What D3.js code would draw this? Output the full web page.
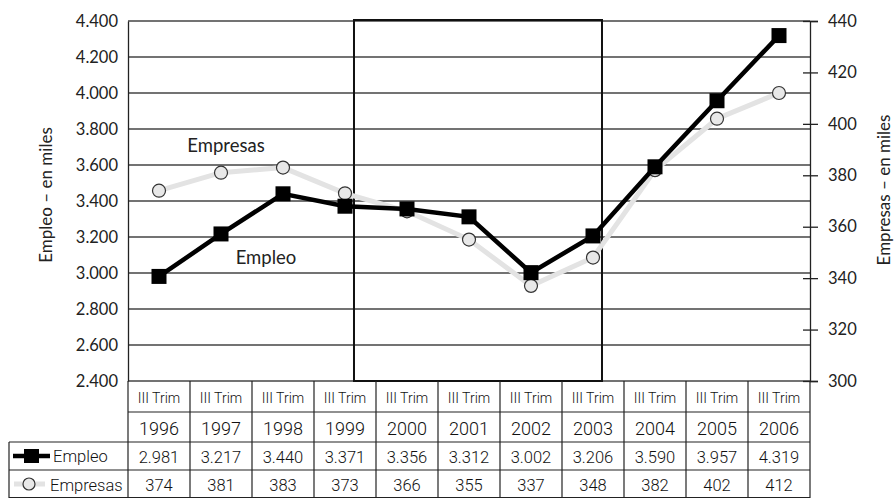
<!DOCTYPE html>
<html><head><meta charset="utf-8">
<script src="https://cdn.jsdelivr.net/npm/d3@7"></script>
<style>body{margin:0;background:#fff}svg{display:block}text{font-family:Lato,"Open Sans",sans-serif;fill:#222}
text.tbl{font-family:Roboto,sans-serif;font-weight:300;fill:#111}</style>
</head><body><svg id="c" width="895" height="498"></svg>
<script>
const years = ["1996","1997","1998","1999","2000","2001","2002","2003","2004","2005","2006"];
const quarter = "III Trim";
const empleo = [2981,3217,3440,3371,3356,3312,3002,3206,3590,3957,4319];
const empleoLabels = ["2.981","3.217","3.440","3.371","3.356","3.312","3.002","3.206","3.590","3.957","4.319"];
const empresas = [374,381,383,373,366,355,337,348,382,402,412];
const leftTicks = [2400,2600,2800,3000,3200,3400,3600,3800,4000,4200,4400];
const rightTicks = [300,320,340,360,380,400,420,440];
const highlight = ["1999","2003"];

const svg = d3.select("#c");
const L=128,R=810,T=21,B=381;
const x = d3.scaleBand().domain(years).range([L,R]);
const yL = d3.scaleLinear().domain([2400,4400]).range([B,T]);
const yR = d3.scaleLinear().domain([300,440]).range([B,T]);
const fmt = v => d3.format(",")(v).replace(/,/g,".");

// gridlines
svg.append("g").selectAll("line").data(leftTicks).join("line")
 .attr("x1",L).attr("x2",R).attr("y1",d=>yL(d)).attr("y2",d=>yL(d))
 .attr("stroke","#444").attr("stroke-width",1.3);
// left axis
const gl = svg.append("g").attr("transform",`translate(${L},0)`).call(d3.axisLeft(yL).tickValues(leftTicks).tickFormat(fmt).tickSize(0).tickPadding(10));
gl.select(".domain").attr("stroke","#222").attr("stroke-width",1.3);
gl.selectAll("text").attr("font-size",16.5).attr("fill","#2a2a2a").attr("font-family","Lato,sans-serif");
// right axis
const gr = svg.append("g").attr("transform",`translate(${R},0)`).call(d3.axisRight(yR).tickValues(rightTicks).tickSize(8).tickPadding(10));
gr.select(".domain").attr("stroke","#222").attr("stroke-width",1.3);
gr.selectAll(".tick line").attr("x1",-7).attr("stroke","#222").attr("stroke-width",1.3);
gr.selectAll("text").attr("font-size",16.5).attr("fill","#2a2a2a").attr("font-family","Lato,sans-serif");

// highlight box
const bx0 = x(highlight[0])+x.bandwidth()*0.645, bx1 = x(highlight[1])+x.bandwidth()*0.645;
svg.append("rect").attr("x",bx0).attr("y",T-1).attr("width",bx1-bx0).attr("height",B-T+1)
 .attr("fill","none").attr("stroke","#111").attr("stroke-width",2);

// axis titles
svg.append("text").attr("transform",`translate(52,195) rotate(-90)`).attr("text-anchor","middle")
 .attr("font-size",17).attr("fill","#2a2a2a").text("Empleo – en miles");
svg.append("text").attr("transform",`translate(890,190) rotate(-90)`).attr("text-anchor","middle")
 .attr("font-size",17).attr("fill","#2a2a2a").text("Empresas – en miles");

const cx = d => x(d)+x.bandwidth()/2;
// Empresas line
svg.append("path").datum(empresas).attr("fill","none").attr("stroke","#e3e3e3").attr("stroke-width",5)
 .attr("d",d3.line().x((d,i)=>cx(years[i])).y(d=>yR(d)));
svg.append("g").selectAll("circle").data(empresas).join("circle")
 .attr("cx",(d,i)=>cx(years[i])).attr("cy",d=>yR(d)).attr("r",6.5)
 .attr("fill","#e8e8e8").attr("stroke","#333").attr("stroke-width",1.2);
// Empleo line
svg.append("path").datum(empleo).attr("fill","none").attr("stroke","#000").attr("stroke-width",4.5)
 .attr("d",d3.line().x((d,i)=>cx(years[i])).y(d=>yL(d)));
svg.append("g").selectAll("rect").data(empleo).join("rect")
 .attr("x",(d,i)=>cx(years[i])-7.5).attr("y",d=>yL(d)-7.5).attr("width",15).attr("height",15).attr("fill","#000");

// series labels
svg.append("text").attr("x",226).attr("y",152).attr("text-anchor","middle").attr("font-size",18.5).text("Empresas");
svg.append("text").attr("x",266).attr("y",264).attr("text-anchor","middle").attr("font-size",18.5).text("Empleo");

// table
const tg = svg.append("g").attr("stroke","#222").attr("stroke-width",1.2);
tg.append("line").attr("x1",L).attr("x2",R).attr("y1",412).attr("y2",412);
tg.append("line").attr("x1",9).attr("x2",R).attr("y1",442).attr("y2",442);
tg.append("line").attr("x1",9).attr("x2",R).attr("y1",470).attr("y2",470);
tg.append("line").attr("x1",9).attr("x2",R).attr("y1",497.5).attr("y2",497.5);
tg.append("line").attr("x1",9).attr("x2",9).attr("y1",442).attr("y2",498);
tg.selectAll(".v").data(years).join("line").attr("x1",d=>x(d)).attr("x2",d=>x(d)).attr("y1",B).attr("y2",498);
tg.append("line").attr("x1",R).attr("x2",R).attr("y1",B).attr("y2",498);

const cell=(arr,y,fs)=>svg.append("g").selectAll("text").data(arr).join("text").attr("class","tbl")
 .attr("x",(d,i)=>cx(years[i])).attr("y",y).attr("text-anchor","middle").attr("font-size",fs).text(d=>d);
cell(years.map(()=>quarter),402.5,14);
cell(years,435,18);
cell(empleoLabels,463,16.5);
cell(empresas,491,16.5);

// legend samples
svg.append("line").attr("x1",13).attr("x2",50).attr("y1",456).attr("y2",456).attr("stroke","#000").attr("stroke-width",4.5);
svg.append("rect").attr("x",24).attr("y",449).attr("width",15).attr("height",14).attr("fill","#000");
svg.append("text").attr("class","tbl").attr("x",53).attr("y",462).attr("font-size",16.5).text("Empleo");
svg.append("line").attr("x1",14).attr("x2",45).attr("y1",484).attr("y2",484).attr("stroke","#e3e3e3").attr("stroke-width",5);
svg.append("circle").attr("cx",29).attr("cy",484).attr("r",6).attr("fill","#e8e8e8").attr("stroke","#333").attr("stroke-width",1.2);
svg.append("text").attr("class","tbl").attr("x",50).attr("y",491).attr("font-size",16.5).text("Empresas");
</script></body></html>
